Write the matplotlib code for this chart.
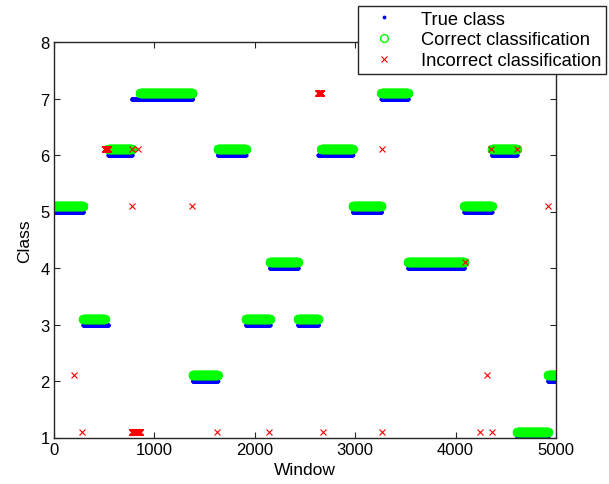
import numpy as np
import matplotlib
matplotlib.use("Agg")
import matplotlib.pyplot as plt

plt.rcParams['font.family'] = ['Liberation Sans', 'DejaVu Sans']

# True-class segments (first window, last window, class)
seg_start = [1, 290, 540, 775, 1380, 1630, 1910, 2150, 2430, 2632, 2975, 3260, 3525, 4085, 4360, 4610, 4920]
seg_end = [289, 539, 774, 1379, 1629, 1909, 2149, 2429, 2631, 2974, 3259, 3524, 4084, 4359, 4609, 4919, 5000]
seg_class = [5, 3, 6, 7, 2, 6, 3, 4, 3, 6, 5, 7, 4, 5, 6, 1, 2]

# Runs of misclassified windows (first window, last window, predicted class)
wrong_start = [200, 280, 505, 775, 776, 780, 781, 840, 841, 1372, 1625, 2140, 2632, 2680, 3262, 3266, 4095, 4245, 4312, 4350, 4365, 4612, 4920]
wrong_end = [200, 280, 539, 775, 779, 780, 839, 840, 856, 1372, 1625, 2140, 2662, 2680, 3262, 3266, 4095, 4245, 4312, 4350, 4365, 4612, 4920]
wrong_pred = [2, 1, 6, 5, 1, 6, 1, 6, 1, 5, 1, 1, 7, 1, 6, 1, 4, 1, 2, 6, 1, 6, 5]

# Expand segments into per-window values
win, true_cls = [], []
for s, e, c in zip(seg_start, seg_end, seg_class):
    w = np.arange(s, e + 1)
    win.append(w)
    true_cls.append(np.full(w.size, c))
win = np.concatenate(win)
true_cls = np.concatenate(true_cls)

wx, wy = [], []
for s, e, c in zip(wrong_start, wrong_end, wrong_pred):
    w = np.arange(s, e + 1)
    wx.append(w)
    wy.append(np.full(w.size, c))
wx = np.concatenate(wx)
wy = np.concatenate(wy)

ok = ~np.isin(win, wx)

fig = plt.figure(figsize=(6.09, 4.85), dpi=100)
ax = fig.add_axes([54 / 609, 1 - 438.5 / 485, (556 - 54) / 609, (438.5 - 43) / 485])

ax.plot(win, true_cls, linestyle='none', marker='.', color='#0000ff', markersize=3.5,
        label='True class')
ax.plot(win[ok], true_cls[ok] + 0.1, linestyle='none', marker='o', markerfacecolor='none',
        markeredgecolor='#00ff00', markeredgewidth=1.0, markersize=5.6,
        label='Correct classification')
ax.plot(wx, wy + 0.1, linestyle='none', marker='x', color='#ff0000',
        markersize=5, markeredgewidth=0.8, label='Incorrect classification')

ax.set_xlim(0, 5000)
ax.set_ylim(1, 8)
ax.set_xticks([0, 1000, 2000, 3000, 4000, 5000])
ax.set_yticks([1, 2, 3, 4, 5, 6, 7, 8])
ax.tick_params(direction='in', length=4, top=True, right=True, labelsize=12, width=0.8,
               colors='#262626', labelcolor='black', pad=3)
for sp in ax.spines.values():
    sp.set_color('#262626')
    sp.set_linewidth(1.0)
ax.set_xlabel('Window', fontsize=12.5, labelpad=4)
ax.set_ylabel('Class', fontsize=12.5, labelpad=6)

leg = ax.legend(loc='upper right', bbox_to_anchor=(606 / 609, 1 - 7 / 485),
                bbox_transform=fig.transFigure, borderaxespad=0, fancybox=False,
                fontsize=13.2, framealpha=1, edgecolor='#262626', handlelength=2.4,
                labelspacing=0.2, borderpad=0.25, handletextpad=0.8, markerscale=1.0)
leg.get_frame().set_linewidth(1.0)

fig.savefig('out.png', dpi=100)
